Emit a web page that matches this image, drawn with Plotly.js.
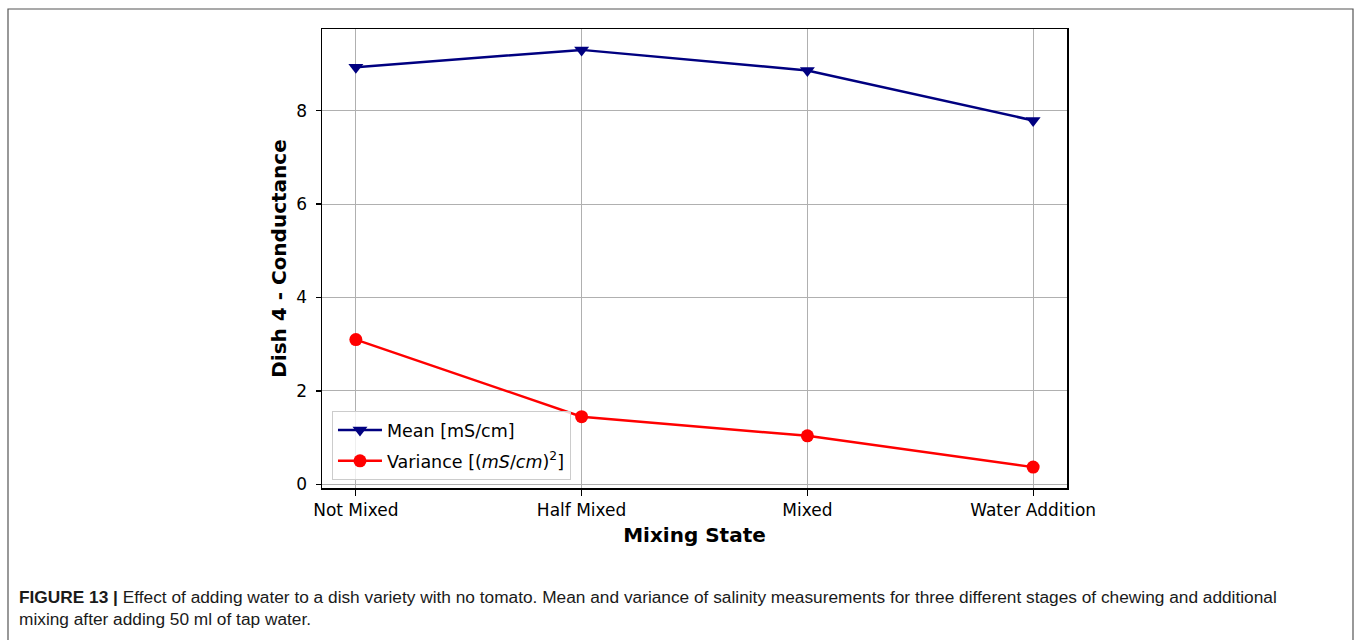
<!DOCTYPE html>
<html>
<head>
<meta charset="utf-8">
<script src="https://cdn.plot.ly/plotly-3.0.1.min.js"></script>
<style>
  html, body { margin: 0; padding: 0; background: #fff; }
  #chart { width: 1356px; height: 640px; }
</style>
</head>
<body>
<div id="chart"></div>
<script>
// Mixing stages along the x axis
const stages = ['Not Mixed', 'Half Mixed', 'Mixed', 'Water Addition'];
// Mean conductance per stage [mS/cm]
const meanValues = [8.93, 9.30, 8.86, 7.79];
// Variance of conductance per stage [(mS/cm)^2]
const varianceValues = [3.10, 1.45, 1.04, 0.37];
const yTicks = [0, 2, 4, 6, 8];

const captionText =
  '<b>FIGURE 13 |</b> Effect of adding water to a dish variety with no tomato. Mean and variance of salinity measurements for three different stages of chewing and additional' +
  '<br>mixing after adding 50 ml of tap water.';

const tickFont = { family: 'DejaVu Sans', size: 17, color: '#000' };
const titleFont = { family: 'DejaVu Sans', size: 20, color: '#000', weight: 'bold' };

const traces = [
  {
    x: stages, y: meanValues, type: 'scatter', mode: 'lines+markers',
    name: 'Mean [mS/cm]', legendgroup: 'mean',
    line: { color: '#000080', width: 2.5 },
    marker: { symbol: 'triangle-down', size: 13, color: '#000080' }
  },
  {
    x: stages, y: varianceValues, type: 'scatter', mode: 'lines+markers',
    name: 'Variance [(<i>mS</i>/<i>cm</i>)<sup>2</sup>]', legendgroup: 'variance',
    line: { color: '#ff0000', width: 2.5 },
    marker: { symbol: 'circle', size: 13, color: '#ff0000' }
  }
];

const layout = {
  width: 1356, height: 640,
  margin: { l: 322, r: 289, t: 29, b: 152 },
  paper_bgcolor: '#fff', plot_bgcolor: '#fff',
  showlegend: true,
  legend: {
    x: 0.0134, y: 0.017, xanchor: 'left', yanchor: 'bottom',
    bgcolor: 'rgba(255,255,255,0.8)', bordercolor: '#cccccc', borderwidth: 1,
    font: { family: 'DejaVu Sans', size: 17.5, color: '#000' },
    itemwidth: 44, tracegroupgap: 5
  },
  xaxis: {
    type: 'category', categoryarray: stages,
    range: [-0.15, 3.15],
    showgrid: true, gridcolor: '#b0b0b0', gridwidth: 1,
    showline: true, linecolor: '#000', linewidth: 1.5, mirror: true,
    ticks: 'outside', ticklen: 6, tickcolor: '#000', tickwidth: 1.2,
    tickfont: tickFont, zeroline: false,
    title: { text: 'Mixing State', font: titleFont, standoff: 9 }
  },
  yaxis: {
    range: [-0.077, 9.747],
    tickvals: yTicks, ticktext: yTicks.map(String),
    showgrid: true, gridcolor: '#b0b0b0', gridwidth: 1,
    showline: true, linecolor: '#000', linewidth: 1.5, mirror: true,
    ticks: 'outside', ticklen: 5, tickcolor: '#000', tickwidth: 1.2,
    ticklabelstandoff: 5,
    tickfont: tickFont, zeroline: false,
    title: { text: 'Dish 4 - Conductance', font: titleFont, standoff: 4 }
  },
  shapes: [
    {
      type: 'rect', xref: 'paper', yref: 'paper',
      x0: (8 - 322) / 745, x1: (1353 - 322) / 745,
      y0: (488 - 660) / 459, y1: (488 - 9) / 459,
      line: { color: '#555555', width: 1.2 }, fillcolor: 'rgba(0,0,0,0)'
    }
  ],
  annotations: [
    {
      text: captionText, xref: 'paper', yref: 'paper',
      x: (17 - 322) / 745, y: (488 - 585) / 459,
      xanchor: 'left', yanchor: 'top', align: 'left', showarrow: false,
      font: { family: 'Liberation Sans, sans-serif', size: 17.3, color: '#1a1a1a' }
    }
  ]
};

Plotly.newPlot('chart', traces, layout, { displayModeBar: false, staticPlot: true });
</script>
</body>
</html>
